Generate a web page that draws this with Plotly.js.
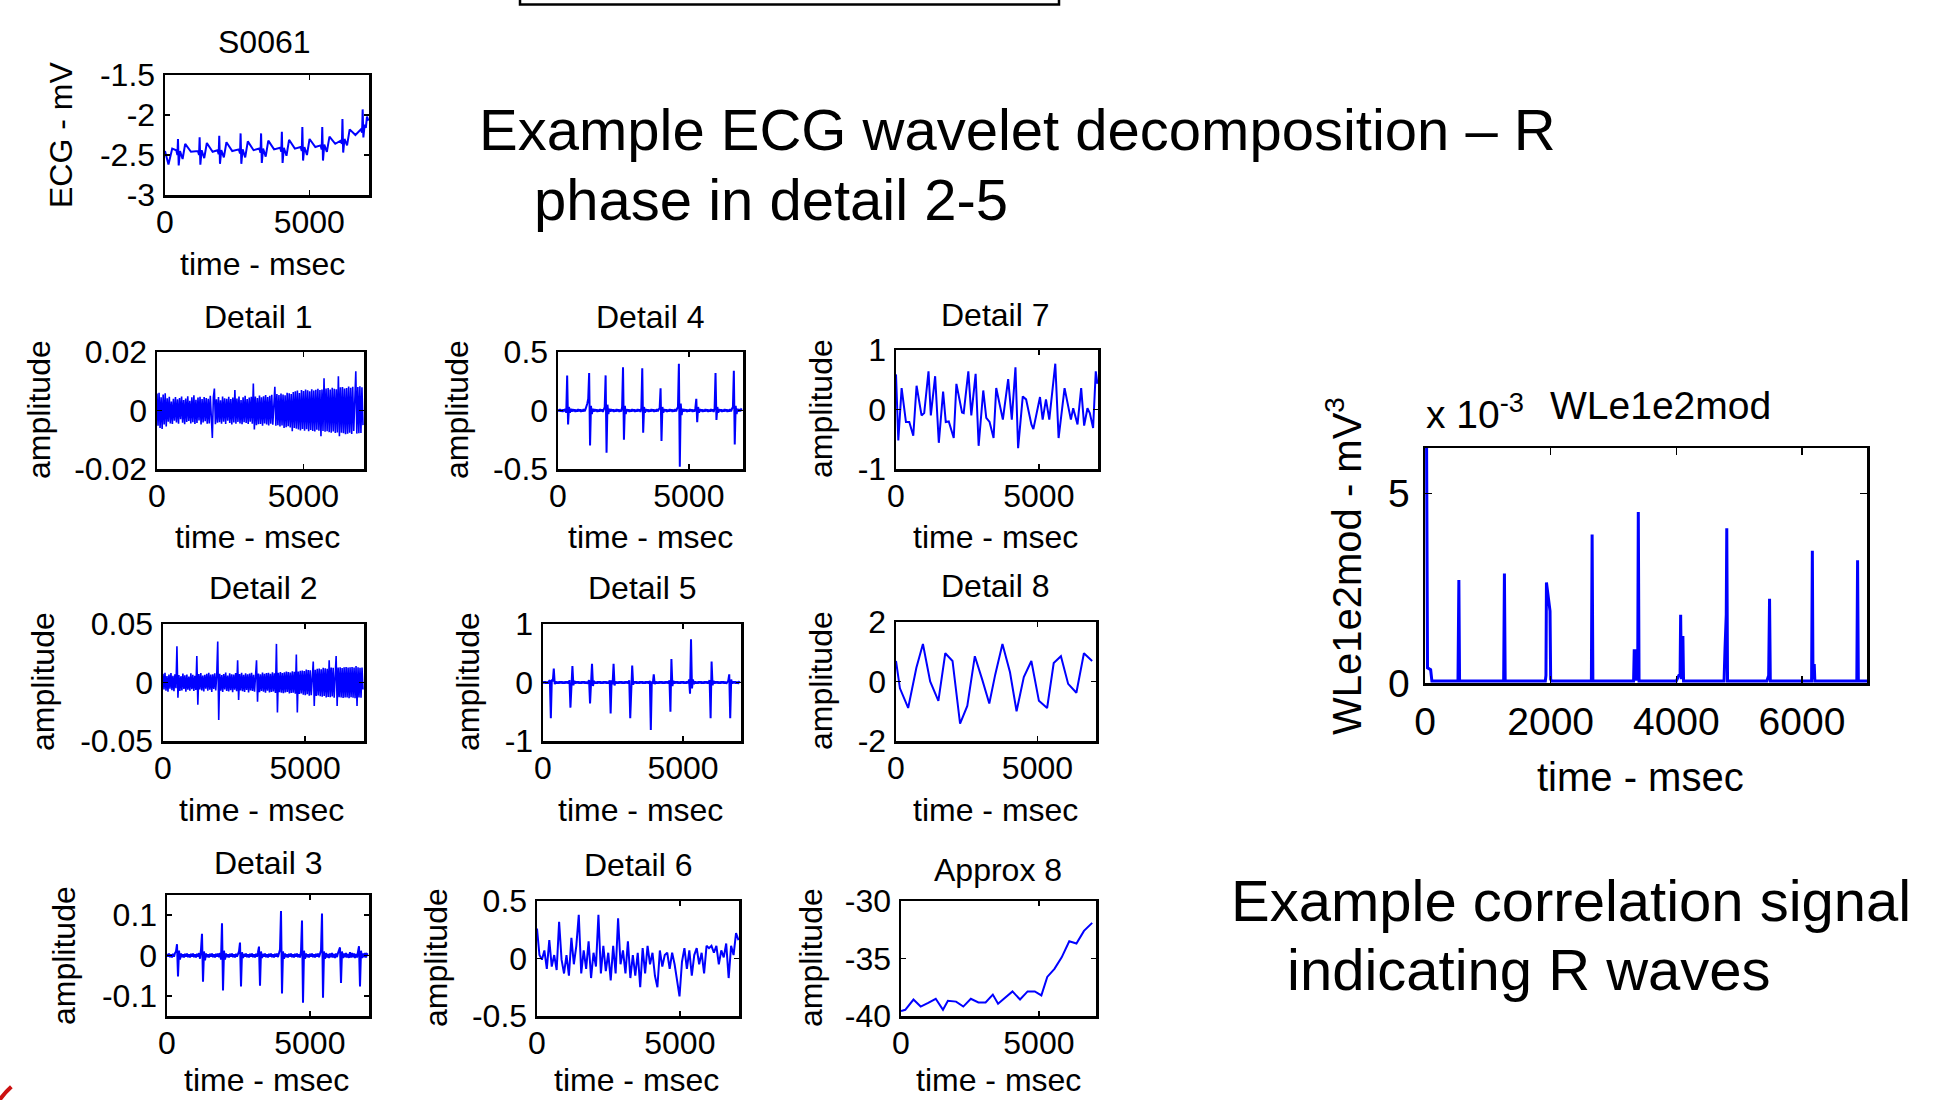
<!DOCTYPE html>
<html><head><meta charset="utf-8">
<script src="https://cdn.plot.ly/plotly-3.0.1.min.js"></script>
<style>html,body{margin:0;padding:0;background:#fff;overflow:hidden}#chart{width:1955px;height:1100px}</style>
</head><body><div id="chart"></div>
<script>
// ================= DATA =================
const X_TICKS = [0, 5000];
const X_TICKTEXT = ['0', '5000'];
const WLE_X_TICKS = [0, 2000, 4000, 6000];
const WLE_X_TICKTEXT = ['0', '2000', '4000', '6000'];

const ECG_YTICKS = [-3, -2.5, -2, -1.5];
const ECG_YTEXT = ['-3', '-2.5', '-2', '-1.5'];
const D1_YTICKS = [-0.02, 0, 0.02];  const D1_YTEXT = ['-0.02', '0', '0.02'];
const D2_YTICKS = [-0.05, 0, 0.05];  const D2_YTEXT = ['-0.05', '0', '0.05'];
const D3_YTICKS = [-0.1, 0, 0.1];    const D3_YTEXT = ['-0.1', '0', '0.1'];
const D4_YTICKS = [-0.5, 0, 0.5];    const D4_YTEXT = ['-0.5', '0', '0.5'];
const D5_YTICKS = [-1, 0, 1];        const D5_YTEXT = ['-1', '0', '1'];
const D6_YTICKS = [-0.5, 0, 0.5];    const D6_YTEXT = ['-0.5', '0', '0.5'];
const D7_YTICKS = [-1, 0, 1];        const D7_YTEXT = ['-1', '0', '1'];
const D8_YTICKS = [-2, 0, 2];        const D8_YTEXT = ['-2', '0', '2'];
const A8_YTICKS = [-40, -35, -30];   const A8_YTEXT = ['-40', '-35', '-30'];
const WLE_YTICKS = [0, 0.005];       const WLE_YTEXT = ['0', '5'];

// ECG S0061 (mV)
const ECG_T = [0,120,250,
 390,430,450,475,520,610,700,900,
 1140,1180,1200,1225,1270,1360,1450,1650,
 1820,1860,1880,1905,1950,2040,2130,2330,
 2560,2600,2620,2645,2690,2780,2870,3070,
 3270,3310,3330,3355,3400,3490,3580,3780,
 3990,4030,4050,4075,4120,4210,4300,4500,
 4700,4740,4760,4785,4830,4920,5010,5210,
 5390,5430,5450,5475,5520,5610,5700,5900,
 6090,6130,6150,6175,6220,6310,6400,6600,
 6790,6830,6850,6875,6920,6960,7000,7050];
const ECG_V = [-2.45,-2.62,-2.42,
 -2.44,-2.50,-2.30,-2.63,-2.45,-2.55,-2.36,-2.46,
 -2.45,-2.50,-2.28,-2.62,-2.44,-2.54,-2.35,-2.46,
 -2.44,-2.49,-2.26,-2.61,-2.44,-2.53,-2.34,-2.45,
 -2.43,-2.48,-2.23,-2.61,-2.43,-2.53,-2.33,-2.44,
 -2.42,-2.47,-2.23,-2.60,-2.42,-2.52,-2.32,-2.43,
 -2.41,-2.46,-2.21,-2.60,-2.41,-2.51,-2.31,-2.42,
 -2.40,-2.45,-2.15,-2.57,-2.40,-2.50,-2.30,-2.40,
 -2.38,-2.43,-2.15,-2.57,-2.37,-2.46,-2.27,-2.36,
 -2.32,-2.36,-2.05,-2.47,-2.30,-2.38,-2.18,-2.25,
 -2.18,-2.22,-1.93,-2.28,-2.12,-2.16,-2.02,-2.07];

// Detail 1 (sample interval 35 ms)
const D1_DT = 35;
const D1_V = [0.0058,-0.0052,0.0061,-0.0060,0.0045,-0.0063,0.0055,-0.0048,0.0059,-0.0055,
0.0042,-0.0038,0.0047,-0.0044,0.0031,-0.0046,0.0040,-0.0035,0.0046,-0.0041,
0.0038,-0.0045,0.0043,-0.0030,0.0048,-0.0042,0.0036,-0.0047,0.0041,-0.0039,
0.0049,-0.0036,0.0033,-0.0044,0.0045,-0.0040,0.0052,-0.0046,0.0037,-0.0043,
0.0044,-0.0034,0.0047,-0.0048,0.0039,-0.0041,0.0046,-0.0037,0.0043,-0.0045,
0.0040,-0.0044,0.0050,-0.0039,-0.0094,0.0045,0.0075,-0.0047,0.0038,-0.0042,
0.0046,-0.0040,0.0035,-0.0045,0.0048,-0.0038,0.0042,-0.0046,0.0040,-0.0035,
0.0047,-0.0043,0.0039,-0.0048,0.0044,-0.0041,0.0070,-0.0045,0.0041,-0.0039,
0.0048,-0.0044,0.0036,-0.0047,0.0045,-0.0040,0.0050,-0.0043,0.0039,-0.0046,
0.0044,-0.0038,0.0047,-0.0045,0.0092,-0.0065,0.0048,-0.0050,0.0043,-0.0047,
0.0051,-0.0046,0.0045,-0.0052,0.0049,-0.0044,0.0053,-0.0048,0.0046,-0.0051,
0.0050,-0.0045,0.0054,-0.0049,0.0047,0.0081,-0.0052,0.0056,-0.0050,0.0053,
-0.0055,0.0058,-0.0051,0.0055,-0.0060,0.0052,-0.0057,0.0061,-0.0054,0.0059,
-0.0058,0.0056,-0.0071,0.0063,-0.0060,0.0066,-0.0062,0.0068,-0.0065,0.0060,
-0.0068,0.0070,-0.0063,0.0067,-0.0069,0.0072,-0.0064,0.0069,-0.0071,0.0066,
-0.0067,0.0073,-0.0070,0.0068,-0.0072,0.0071,-0.0066,0.0074,-0.0069,0.0070,
-0.0088,0.0072,-0.0070,0.0110,-0.0073,0.0075,-0.0071,0.0077,-0.0074,0.0072,
-0.0076,0.0078,-0.0072,0.0074,-0.0077,0.0073,-0.0075,0.0117,-0.0088,0.0079,
-0.0076,0.0080,-0.0078,0.0075,-0.0081,0.0077,-0.0079,0.0082,-0.0076,0.0078,
-0.0080,0.0081,-0.0070,0.0077,0.0134,-0.0079,0.0080,-0.0078,0.0083,-0.0077,
0.0079,-0.0050];

// Detail 2 (sample interval 35 ms)
const D2_DT = 35;
const D2_V = [0.0075,-0.0060,0.0082,-0.0071,0.0055,-0.0078,0.0068,-0.0052,0.0080,-0.0066,
0.0058,-0.0074,0.0070,-0.0049,0.0310,-0.0130,0.0063,-0.0072,0.0054,-0.0068,
0.0076,-0.0055,0.0061,-0.0079,0.0069,-0.0062,0.0050,-0.0070,0.0078,-0.0058,
0.0065,-0.0073,0.0057,-0.0064,0.0226,-0.0190,0.0072,-0.0060,0.0081,-0.0069,
0.0059,-0.0077,0.0066,-0.0053,0.0074,-0.0071,0.0083,-0.0062,0.0068,-0.0080,
0.0071,-0.0056,0.0079,-0.0067,0.0062,0.0350,-0.0320,0.0075,-0.0070,0.0064,
-0.0081,0.0073,-0.0059,0.0085,-0.0072,0.0060,-0.0076,0.0078,-0.0065,0.0070,
-0.0083,0.0067,-0.0061,0.0080,-0.0074,0.0190,-0.0150,0.0072,-0.0068,0.0084,
-0.0075,0.0066,-0.0080,0.0079,-0.0063,0.0071,-0.0085,0.0076,-0.0069,0.0082,
-0.0072,0.0065,-0.0078,0.0080,0.0190,-0.0165,0.0077,-0.0084,0.0070,-0.0073,
0.0086,-0.0079,0.0074,-0.0088,0.0081,-0.0070,0.0083,-0.0086,0.0075,-0.0080,
0.0088,-0.0077,0.0079,-0.0090,0.0330,-0.0257,0.0084,-0.0082,0.0090,-0.0087,
0.0080,-0.0092,0.0087,-0.0085,0.0093,-0.0081,0.0089,-0.0094,0.0085,-0.0090,
0.0095,-0.0088,0.0091,-0.0096,0.0240,-0.0257,0.0094,-0.0098,0.0100,-0.0093,
0.0102,-0.0105,0.0097,-0.0108,0.0110,-0.0101,0.0106,-0.0112,0.0104,-0.0109,
0.0113,0.0180,-0.0200,0.0108,-0.0115,0.0117,-0.0110,0.0120,-0.0118,0.0114,
-0.0122,0.0125,-0.0116,0.0121,-0.0127,0.0118,-0.0124,0.0190,-0.0126,0.0128,
-0.0120,0.0126,-0.0130,0.0123,0.0226,-0.0200,0.0129,-0.0125,0.0131,-0.0128,
0.0124,-0.0132,0.0130,-0.0127,0.0133,-0.0129,0.0127,-0.0134,0.0131,-0.0126,
0.0132,-0.0130,0.0128,-0.0135,0.0140,-0.0200,0.0130,-0.0128,0.0125,-0.0131,
0.0127,-0.0060];

// Detail 3 (sample interval 35 ms)
const D3_DT = 35;
const D3_V = [0.004,-0.003,0.005,-0.004,0.003,-0.005,0.004,-0.003,0.006,0.010,
0.028,-0.052,0.012,-0.010,0.005,-0.004,0.003,-0.005,0.004,-0.003,
0.005,-0.004,0.003,-0.005,0.004,-0.003,0.005,-0.004,0.003,-0.005,
0.004,-0.003,0.006,-0.008,0.015,0.054,-0.065,0.010,-0.012,0.005,
-0.004,0.003,-0.005,0.004,-0.003,0.005,-0.004,0.003,-0.005,0.004,
-0.003,0.005,-0.004,0.006,-0.010,0.080,-0.087,0.012,-0.010,0.005,
-0.004,0.003,-0.005,0.004,-0.003,0.005,-0.004,0.003,-0.005,0.004,
-0.003,0.005,0.010,0.032,-0.077,0.008,-0.006,0.004,-0.003,0.005,
-0.004,0.003,-0.005,0.004,-0.003,0.005,-0.004,0.003,-0.005,0.004,
-0.003,0.008,0.022,-0.075,0.010,-0.006,0.004,-0.003,0.005,-0.004,
0.003,-0.005,0.004,-0.003,0.005,-0.004,0.003,-0.005,0.004,-0.003,
0.005,-0.004,0.006,0.015,0.110,-0.094,0.010,-0.008,0.005,-0.004,
0.003,-0.005,0.004,-0.003,0.005,-0.004,0.003,-0.005,0.004,-0.003,
0.005,-0.004,0.003,-0.005,0.010,0.087,-0.117,0.012,-0.008,0.005,
-0.004,0.003,-0.005,0.004,-0.003,0.005,-0.004,0.003,-0.005,0.004,
-0.003,0.005,-0.004,0.006,0.012,0.104,-0.105,0.010,-0.008,0.006,
-0.005,0.004,-0.006,0.005,-0.004,0.006,-0.005,0.004,-0.006,0.005,
-0.004,0.006,0.012,0.020,-0.068,0.010,-0.006,0.005,-0.004,0.006,
-0.005,0.004,-0.006,0.008,-0.005,0.006,-0.004,0.005,-0.006,0.004,
-0.005,0.010,0.023,-0.077,0.012,-0.006,0.005,-0.004,0.006,-0.005,
0.004,0.002];

// Detail 4 (sample interval 35 ms)
const D4_DT = 35;
const D4_V = [0.010,-0.008,0.012,-0.010,0.008,-0.012,0.010,-0.008,0.015,-0.020,
0.30,-0.12,0.03,-0.02,0.015,-0.010,0.012,-0.008,0.010,-0.012,
0.008,-0.010,0.012,-0.008,0.010,-0.012,0.008,-0.010,0.012,-0.008,
0.010,0.030,0.060,0.100,0.32,-0.30,0.04,-0.03,0.015,-0.010,
0.012,-0.008,0.010,-0.012,0.008,-0.010,0.012,-0.008,0.010,-0.012,
0.015,0.030,0.30,-0.36,0.05,-0.03,0.015,-0.010,0.012,-0.008,
0.010,-0.012,0.008,-0.010,0.012,-0.008,0.010,-0.012,0.008,-0.010,
0.030,0.37,-0.25,0.04,-0.03,0.012,-0.008,0.010,-0.012,0.008,
-0.010,0.012,-0.008,0.010,-0.012,0.008,-0.010,0.012,-0.008,0.010,
-0.012,0.020,0.36,-0.19,0.03,-0.02,0.012,-0.008,0.010,-0.012,
0.008,-0.010,0.012,-0.008,0.010,-0.012,0.008,-0.010,0.012,-0.008,
0.010,0.020,0.19,-0.26,0.03,-0.02,0.012,-0.008,0.010,-0.012,
0.008,-0.010,0.012,-0.008,0.010,-0.012,0.008,-0.010,0.012,-0.008,
0.015,0.030,0.40,-0.48,0.06,-0.04,0.015,-0.010,0.012,-0.008,
0.010,-0.012,0.008,-0.010,0.012,-0.008,0.010,-0.012,0.008,-0.010,
0.020,0.10,-0.10,0.03,-0.02,0.012,-0.008,0.010,-0.012,0.008,
-0.010,0.012,-0.008,0.010,-0.012,0.008,-0.010,0.012,-0.008,0.010,
-0.012,0.020,0.32,-0.08,0.03,-0.02,0.012,-0.008,0.010,-0.012,
0.008,-0.010,0.012,-0.008,0.010,-0.012,0.008,-0.010,0.012,-0.008,
0.015,0.030,0.34,-0.29,0.04,-0.03,0.015,-0.010,0.012,-0.008,
0.010,0.005];

// Detail 5 (sample interval 35 ms)
const D5_DT = 35;
const D5_V = [0.02,-0.015,0.018,-0.02,0.015,-0.018,0.02,0.04,-0.61,0.05,
0.02,0.24,-0.03,0.02,-0.018,0.015,-0.02,0.018,-0.015,0.02,
-0.018,0.015,-0.02,0.018,-0.015,0.02,-0.018,0.04,-0.43,0.03,
0.28,-0.05,0.03,-0.02,0.018,-0.015,0.02,-0.018,0.015,-0.02,
0.018,-0.015,0.02,-0.018,0.015,-0.02,0.018,0.04,-0.36,0.05,
0.32,-0.06,0.03,-0.02,0.015,-0.018,0.02,-0.015,0.018,-0.02,
0.015,-0.018,0.02,-0.015,0.018,-0.02,0.015,-0.018,0.04,-0.53,
0.04,-0.03,0.32,-0.05,0.02,-0.018,0.015,-0.02,0.018,-0.015,
0.02,-0.018,0.015,-0.02,0.018,-0.015,0.02,-0.018,0.04,-0.61,
0.03,0.29,-0.04,0.02,-0.015,0.018,-0.02,0.015,-0.018,0.02,
-0.015,0.018,-0.02,0.015,-0.018,0.02,-0.015,0.018,-0.02,0.03,
-0.81,0.02,-0.02,0.14,-0.03,0.02,-0.018,0.015,-0.02,0.018,
-0.015,0.02,-0.018,0.015,-0.02,0.018,-0.015,0.02,-0.018,0.04,
-0.50,0.40,-0.06,0.03,-0.02,0.018,-0.015,0.02,-0.018,0.015,
-0.02,0.018,-0.015,0.02,-0.018,0.015,-0.02,0.018,-0.015,0.05,
-0.19,0.74,-0.10,0.05,-0.03,0.02,-0.018,0.015,-0.02,0.018,
-0.015,0.02,-0.018,0.015,-0.02,0.018,-0.015,0.02,-0.018,0.03,
0.04,-0.61,0.36,-0.05,0.03,-0.02,0.018,-0.015,0.02,-0.018,
0.015,-0.02,0.018,-0.015,0.02,-0.018,0.015,-0.02,0.018,0.03,
0.14,-0.61,0.05,-0.02,0.018,-0.015,0.02,-0.018,0.015,-0.02,
0.01,0.0];

// Detail 6 (sample interval 86 ms)
const D6_DT = 86;
const D6_V = [0.26,0.03,-0.01,0.07,-0.09,0.16,-0.07,0.03,-0.10,0.32,
-0.01,-0.13,0.03,-0.15,0.18,-0.05,0.11,0.38,-0.13,0.07,
-0.09,0.15,-0.17,0.05,-0.07,0.38,-0.13,0.11,-0.11,0.05,
-0.19,0.11,-0.13,0.35,-0.05,0.07,-0.13,0.15,-0.17,0.03,
-0.15,0.05,-0.25,0.09,-0.13,0.11,-0.05,0.05,-0.15,-0.25,
0.07,-0.07,0.03,0.05,-0.09,0.05,-0.05,-0.19,-0.33,-0.03,
0.09,-0.09,0.07,-0.15,0.03,0.09,-0.05,0.05,-0.13,0.11,
0.09,0.11,0.05,0.11,-0.05,0.07,0.01,0.13,-0.17,0.11,
0.03,0.22,0.16];

// Detail 7
const D7_T = [0,81,197,348,465,604,720,894,987,1138,1219,1370,1498,1649,1742,1847,2021,2114,2311,2369,
2532,2636,2787,2892,3054,3159,3275,3415,3508,3740,3926,4053,4181,4274,4437,4553,4739,4808,5040,5133,
5249,5365,5575,5691,5900,6121,6202,6353,6481,6585,6701,6783,6899,6992,7050];
const D7_V = [0.59,-0.52,0.36,-0.21,-0.21,-0.44,0.40,-0.10,-0.06,0.64,-0.10,0.56,-0.56,0.30,-0.21,-0.20,-0.48,0.43,-0.05,-0.06,
0.64,-0.10,0.60,-0.61,0.32,-0.14,-0.21,-0.48,0.36,-0.17,0.51,-0.17,0.71,-0.65,0.22,0.17,-0.25,-0.33,0.21,-0.17,
0.17,-0.17,0.77,-0.48,0.36,-0.17,0.02,-0.25,0.36,-0.27,0.02,-0.06,-0.31,0.64,0.43];

// Detail 8
const D8_T = [0,139,430,720,952,1208,1498,1742,1998,2265,2520,2787,3043,3298,3507,3763,4030,4262,4518,4785,5052,5342,5575,5830,6086,6376,6643,6934];
const D8_V = [0.69,-0.23,-0.89,0.46,1.26,0.00,-0.65,0.95,0.69,-1.42,-0.82,0.85,0.08,-0.74,0.23,1.26,0.31,-1.00,0.15,0.69,-0.65,-0.89,0.62,0.85,-0.08,-0.38,0.95,0.69];

// Approx 8
const A8_T = [0,155,452,713,987,1260,1522,1700,1997,2259,2532,2806,3067,3329,3519,3781,4042,4316,4590,4851,5089,5303,5564,5826,6100,6361,6634,6932];
const A8_V = [-39.57,-39.46,-38.57,-39.18,-38.86,-38.50,-39.46,-38.68,-38.75,-39.18,-38.50,-38.82,-38.82,-38.14,-38.93,-38.39,-37.86,-38.57,-37.86,-37.86,-38.21,-36.60,-35.90,-34.90,-33.50,-33.70,-32.60,-31.90];

// WLe1e2mod correlation signal (mV^3)
const WLE_T = [0,25,40,90,110,525,539,550,1252,1264,1276,1915,1925,1933,1990,2000,2015,2648,2660,2672,
3320,3330,3350,3360,3385,3395,3407,4000,4040,4060,4069,4080,4095,4105,4115,4760,4775,4795,4803,4815,
5440,5470,5484,5496,6153,6165,6175,6185,6195,6205,6873,6885,6897,7050];
const WLE_V = [0.0064,0.0064,0.0004,0.00035,0.00005,0.00005,0.00272,0.00005,0.00005,0.00289,0.00005,0.00005,0.0002,0.00265,0.0019,0.0001,0.00005,0.00005,0.00392,0.00005,
0.00005,0.00085,0.00085,0.0001,0.0001,0.00451,0.00005,0.00005,0.0002,0.0002,0.0018,0.0001,0.0012,0.0012,0.00005,0.00005,0.0009,0.0018,0.00408,0.00005,
0.00005,0.0002,0.00222,0.00005,0.00005,0.00349,0.0001,0.0005,0.0005,0.00005,0.00005,0.00324,0.00005,0.00005];

// ================= LAYOUT / DRAWING =================
const W = 1955, H = 1100;
const FONT = 'Liberation Sans, Arial, Helvetica, sans-serif';
const BLUE = '#0000ff';
const XMAX = 7070, WLE_XMAX = 7035;

function sampleTimes(dt, n) { const t = []; for (let i = 0; i < n; i++) t.push(i * dt); return t; }

// box = [left, right, top, bottom] in page pixels
const PANELS = [
  {t: ECG_T, v: ECG_V, box: [165,369,75,195], xr: [0,XMAX], yr: [-3,-1.5], yt: ECG_YTICKS, ytt: ECG_YTEXT, lw: 2},
  {t: sampleTimes(D1_DT, D1_V.length), v: D1_V, box: [157,364,352,469], xr: [0,XMAX], yr: [-0.02,0.02], yt: D1_YTICKS, ytt: D1_YTEXT, lw: 1.6},
  {t: sampleTimes(D4_DT, D4_V.length), v: D4_V, box: [558,743,352,469], xr: [0,XMAX], yr: [-0.5,0.5], yt: D4_YTICKS, ytt: D4_YTEXT, lw: 2},
  {t: D7_T, v: D7_V, box: [896,1098,350,469], xr: [0,XMAX], yr: [-1,1], yt: D7_YTICKS, ytt: D7_YTEXT, lw: 2},
  {t: sampleTimes(D2_DT, D2_V.length), v: D2_V, box: [163,364,624,741], xr: [0,XMAX], yr: [-0.05,0.05], yt: D2_YTICKS, ytt: D2_YTEXT, lw: 1.6},
  {t: sampleTimes(D5_DT, D5_V.length), v: D5_V, box: [543,741,624,741], xr: [0,XMAX], yr: [-1,1], yt: D5_YTICKS, ytt: D5_YTEXT, lw: 2},
  {t: D8_T, v: D8_V, box: [896,1096,622,741], xr: [0,XMAX], yr: [-2,2], yt: D8_YTICKS, ytt: D8_YTEXT, lw: 2},
  {t: sampleTimes(D3_DT, D3_V.length), v: D3_V, box: [167,369,895,1016], xr: [0,XMAX], yr: [-0.15,0.15], yt: D3_YTICKS, ytt: D3_YTEXT, lw: 2},
  {t: sampleTimes(D6_DT, D6_V.length), v: D6_V, box: [537,739,901,1016], xr: [0,XMAX], yr: [-0.5,0.5], yt: D6_YTICKS, ytt: D6_YTEXT, lw: 2},
  {t: A8_T, v: A8_V, box: [901,1096,901,1016], xr: [0,XMAX], yr: [-40,-30], yt: A8_YTICKS, ytt: A8_YTEXT, lw: 2},
  {t: WLE_T, v: WLE_V, box: [1425,1867,448,683], xr: [0,WLE_XMAX], yr: [0,0.0062], yt: WLE_YTICKS, ytt: WLE_YTEXT, lw: 3, big: true}
];

const traces = [];
const layout = {
  width: W, height: H,
  margin: {l: 0, r: 0, t: 0, b: 0},
  paper_bgcolor: '#ffffff', plot_bgcolor: 'rgba(0,0,0,0)',
  showlegend: false,
  font: {family: FONT, color: '#000'},
  annotations: [], shapes: []
};

PANELS.forEach((p, i) => {
  const n = i + 1;
  const xa = 'xaxis' + (n === 1 ? '' : n), ya = 'yaxis' + (n === 1 ? '' : n);
  const fs = p.big ? 39 : 32;
  const common = {
    ticks: 'inside', ticklen: p.big ? 7 : 5, tickwidth: 1.5, tickcolor: '#000',
    showline: true, linecolor: '#000', linewidth: 2.5, mirror: 'ticks',
    showgrid: false, zeroline: false, fixedrange: true,
    tickfont: {family: FONT, size: fs, color: '#000'}, tickmode: 'array'
  };
  layout[xa] = Object.assign({}, common, {
    domain: [p.box[0] / W, p.box[1] / W], range: p.xr,
    tickvals: p.big ? WLE_X_TICKS : X_TICKS, ticktext: p.big ? WLE_X_TICKTEXT : X_TICKTEXT,
    anchor: 'y' + (n === 1 ? '' : n), ticklabelstandoff: p.big ? 3 : -3
  });
  layout[ya] = Object.assign({}, common, {
    domain: [1 - p.box[3] / H, 1 - p.box[2] / H], range: p.yr,
    tickvals: p.yt, ticktext: p.ytt,
    anchor: 'x' + (n === 1 ? '' : n), ticklabelstandoff: p.big ? 5 : 1
  });
  traces.push({
    type: 'scatter', mode: 'lines', x: p.t, y: p.v,
    xaxis: 'x' + (n === 1 ? '' : n), yaxis: 'y' + (n === 1 ? '' : n),
    line: {color: BLUE, width: p.lw}, hoverinfo: 'skip'
  });
});

function A(text, px, py, size, extra) {
  return Object.assign({
    text: text, x: px / W, y: 1 - py / H, xref: 'paper', yref: 'paper',
    showarrow: false, xanchor: 'center', yanchor: 'middle',
    font: {family: FONT, size: size, color: '#000'}
  }, extra || {});
}
const ann = layout.annotations;
// panel titles
[['S0061',264,42],['Detail 1',258,317],['Detail 4',650,317],['Detail 7',996,315],
 ['Detail 2',263,588],['Detail 5',642,588],['Detail 8',996,586],
 ['Detail 3',268,863],['Detail 6',638,865],['Approx 8',998,870]].forEach(a => ann.push(A(a[0], a[1], a[2], 32)));
// y labels
ann.push(A('ECG - mV', 61, 135, 32, {textangle: -90}));
[[39,410],[457,410],[821,409],[43,682],[468,682],[821,681],[64,955],[436,958],[811,958]]
  .forEach(a => ann.push(A('amplitude', a[0], a[1], 32, {textangle: -90})));
// x labels
[[262,264],[257,537],[650,537],[996,537],[261,810],[640,810],[996,810],[266,1080],[636,1080],[998,1080]]
  .forEach(a => ann.push(A('time - msec', a[0], a[1], 32)));
// big plot texts
ann.push(A('WLe1e2mod', 1660, 405, 39));
ann.push(A('x 10<sup>-3</sup>', 1424, 412, 39, {xanchor: 'left'}));
ann.push(A('WLe1e2mod - mV<sup>3</sup>', 1344, 566, 40, {textangle: -90}));
ann.push(A('time - msec', 1640, 777, 40));
// headline texts
ann.push(A('Example ECG wavelet decomposition \u2013 R', 477, 130, 58, {xanchor: 'left'}));
ann.push(A('phase in detail 2-5', 532, 199, 58, {xanchor: 'left'}));
ann.push(A('Example correlation signal', 1229, 900, 58, {xanchor: 'left'}));
ann.push(A('indicating R waves', 1285, 969, 58, {xanchor: 'left'}));

// cut-off text box at the top and red arc at the bottom-left corner
layout.shapes.push({type: 'rect', xref: 'paper', yref: 'paper', x0: 520 / W, x1: 1059 / W, y0: 1 - 4.5 / H, y1: 1.05,
  line: {color: '#000', width: 2.5}, fillcolor: 'rgba(0,0,0,0)'});
layout.shapes.push({type: 'path', xref: 'paper', yref: 'paper',
  path: 'M -0.001 -0.002 Q 0.0020 0.0060 0.0058 0.0120', line: {color: '#cc1111', width: 4}});

Plotly.newPlot('chart', traces, layout, {displayModeBar: false, staticPlot: true});
</script>
</body></html>
